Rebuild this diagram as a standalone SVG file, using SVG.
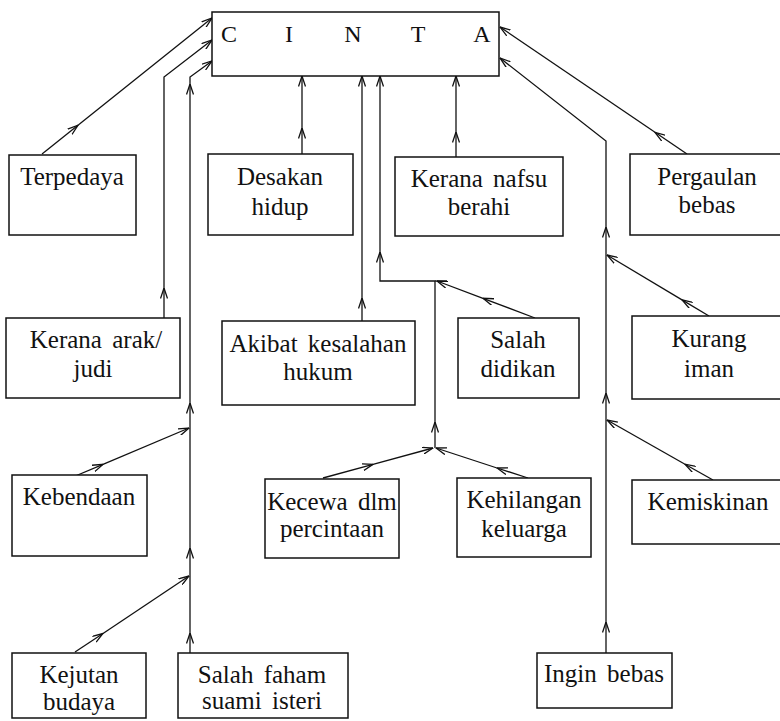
<svg xmlns="http://www.w3.org/2000/svg" width="780" height="721" viewBox="0 0 780 721">
<style>
.box{fill:#fff;stroke:#111;stroke-width:1.5}
.t{font-family:"Liberation Serif","Times New Roman",serif;font-size:25px;fill:#111;text-anchor:middle;word-spacing:4px}
.c{font-family:"Liberation Serif","Times New Roman",serif;font-size:24px;fill:#111;text-anchor:middle}
.ln{fill:none;stroke:#111;stroke-width:1.3;marker-end:url(#ah)}
.pl{fill:none;stroke:#111;stroke-width:1.3}
</style>
<defs>
<marker id="ah" markerUnits="userSpaceOnUse" viewBox="0 0 11 8" refX="10.5" refY="4" markerWidth="11" markerHeight="8" orient="auto">
<path d="M0,0.5 L10.5,4 L0,7.5" fill="none" stroke="#111" stroke-width="1.3"/>
</marker>
</defs>
<rect width="780" height="721" fill="#fff"/>
<g id="connectors">
<path class="ln" d="M42,154 L78,125.2"/>
<path class="ln" d="M78,125.2 L212,18"/>
<path class="ln" d="M164,318 L164,288"/>
<path class="ln" d="M164,288 L164,77 L212,40"/>
<path class="ln" d="M190,653 L190,633"/>
<path class="ln" d="M190,633 L190,548"/>
<path class="ln" d="M190,548 L190,403"/>
<path class="ln" d="M190,403 L190,84"/>
<path class="ln" d="M190,84 L190,77 L212,61"/>
<path class="ln" d="M73,477 L103,464.4"/>
<path class="ln" d="M103,464.4 L189,428"/>
<path class="ln" d="M75,652 L103,633.5"/>
<path class="ln" d="M103,633.5 L189,576"/>
<path class="ln" d="M302,154 L302,128"/>
<path class="ln" d="M302,128 L302,76"/>
<path class="ln" d="M362,321 L362,298"/>
<path class="ln" d="M362,298 L362,76"/>
<path class="ln" d="M323,478 L373,464.4"/>
<path class="ln" d="M373,464.4 L433,448"/>
<path class="ln" d="M528,478 L497,468"/>
<path class="ln" d="M497,468 L436,448"/>
<path class="ln" d="M435,448 L435,422"/>
<path class="ln" d="M435,422 L435,281 L380,281 L380,252"/>
<path class="ln" d="M380,252 L380,76"/>
<path class="pl" d="M435,281 L447,281"/>
<path class="ln" d="M535,318 L483,298.3"/>
<path class="ln" d="M483,298.3 L437,281"/>
<path class="ln" d="M456,157 L456,132"/>
<path class="ln" d="M456,132 L456,76"/>
<path class="ln" d="M687,154 L655,132.3"/>
<path class="ln" d="M655,132.3 L500,27"/>
<path class="ln" d="M606,653 L606,622"/>
<path class="ln" d="M606,622 L606,393"/>
<path class="ln" d="M606,393 L606,227"/>
<path class="ln" d="M606,227 L606,141 L500,58"/>
<path class="ln" d="M709,316 L682,299.9"/>
<path class="ln" d="M682,299.9 L607,255"/>
<path class="ln" d="M713,480 L685,464.2"/>
<path class="ln" d="M685,464.2 L607,420"/>
</g>
<g id="cinta">
<rect class="box" x="212" y="12" width="287" height="64"/>
<text class="c" x="229" y="42">C</text>
<text class="c" x="289" y="42">I</text>
<text class="c" x="353" y="42">N</text>
<text class="c" x="418" y="42">T</text>
<text class="c" x="482" y="42">A</text>
</g>
<g id="terpedaya">
<rect class="box" x="9" y="155" width="127" height="80"/>
<text class="t" x="72" y="185">Terpedaya</text>
</g>
<g id="desakan">
<rect class="box" x="208" y="154" width="145" height="81"/>
<text class="t" x="280" y="185">Desakan</text>
<text class="t" x="280" y="215">hidup</text>
</g>
<g id="nafsu">
<rect class="box" x="395" y="157" width="168" height="79"/>
<text class="t" x="479" y="187">Kerana nafsu</text>
<text class="t" x="479" y="215">berahi</text>
</g>
<g id="pergaulan">
<rect class="box" x="630" y="154" width="156" height="81"/>
<text class="t" x="707" y="185">Pergaulan</text>
<text class="t" x="707" y="213">bebas</text>
</g>
<g id="arak">
<rect class="box" x="6" y="318" width="174" height="80"/>
<text class="t" x="96" y="348">Kerana arak/</text>
<text class="t" x="93" y="377">judi</text>
</g>
<g id="akibat">
<rect class="box" x="222" y="321" width="193" height="84"/>
<text class="t" x="318" y="352">Akibat kesalahan</text>
<text class="t" x="318" y="380">hukum</text>
</g>
<g id="didikan">
<rect class="box" x="458" y="318" width="121" height="80"/>
<text class="t" x="518" y="348">Salah</text>
<text class="t" x="518" y="377">didikan</text>
</g>
<g id="iman">
<rect class="box" x="632" y="316" width="154" height="83"/>
<text class="t" x="709" y="347">Kurang</text>
<text class="t" x="709" y="377">iman</text>
</g>
<g id="kebendaan">
<rect class="box" x="12" y="475" width="135" height="81"/>
<text class="t" x="79" y="505">Kebendaan</text>
</g>
<g id="kecewa">
<rect class="box" x="265" y="479" width="134" height="79"/>
<text class="t" x="332" y="510">Kecewa dlm</text>
<text class="t" x="332" y="537">percintaan</text>
</g>
<g id="kehilangan">
<rect class="box" x="457" y="478" width="134" height="79"/>
<text class="t" x="524" y="508">Kehilangan</text>
<text class="t" x="524" y="537">keluarga</text>
</g>
<g id="kemiskinan">
<rect class="box" x="632" y="480" width="154" height="64"/>
<text class="t" x="708" y="510">Kemiskinan</text>
</g>
<g id="kejutan">
<rect class="box" x="12" y="653" width="134" height="65"/>
<text class="t" x="79" y="683">Kejutan</text>
<text class="t" x="79" y="710">budaya</text>
</g>
<g id="salahfaham">
<rect class="box" x="178" y="653" width="170" height="65"/>
<text class="t" x="262" y="683">Salah faham</text>
<text class="t" x="262" y="709">suami isteri</text>
</g>
<g id="ingin">
<rect class="box" x="537" y="653" width="135" height="55"/>
<text class="t" x="604" y="682">Ingin bebas</text>
</g>
</svg>
